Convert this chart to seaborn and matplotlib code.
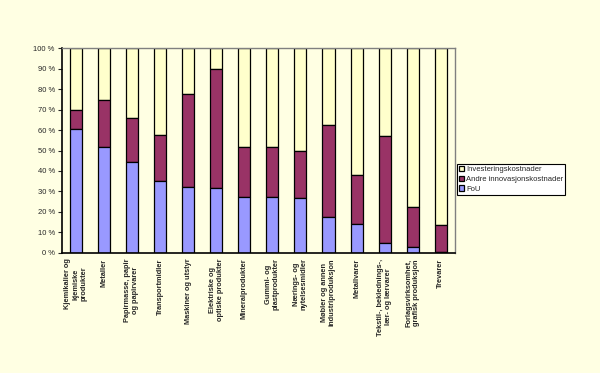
import matplotlib
matplotlib.use("Agg")
import matplotlib.pyplot as plt
import seaborn as sns
import numpy as np
import pandas as pd

categories = [
    "Kjemikalier og\nkjemiske\nprodukter", "Metaller", "Papirmasse, papir\nog papirvarer",
    "Transportmidler", "Maskiner og utstyr", "Elektriske og\noptiske produkter",
    "Mineralprodukter", "Gummi- og\nplastprodukter", "Nærings- og\nnytelsesmidler",
    "Møbler og annen\nindustriproduksjon", "Metallvarer", "Tekstil-, beklednings-,\nlær- og lærvarer",
    "Forlagsvirksomhet,\ngrafisk produksjon", "Trevarer",
]
fou = [60.6, 51.5, 44.4, 35.1, 32.4, 31.7, 27.5, 27.5, 27.0, 17.6, 14.1, 5.0, 2.8, 0.5]
andre = [9.2, 23.1, 21.3, 22.6, 45.0, 58.1, 24.0, 24.3, 22.8, 44.8, 23.9, 52.1, 19.8, 13.2]
invest = [100 - a - b for a, b in zip(fou, andre)]
yticks = [0, 10, 20, 30, 40, 50, 60, 70, 80, 90, 100]

bg = "#FFFFE3"
sns.set_style("white")
plt.rcParams["font.family"] = ["Liberation Sans", "DejaVu Sans"]

df = pd.DataFrame({"kat": categories, "fou": fou, "andre": andre, "invest": invest})
df["b2"] = df["fou"]
df["b3"] = df["fou"] + df["andre"]

fig = plt.figure(figsize=(6, 3.73), dpi=100, facecolor=bg)
ax = fig.add_axes([0.103, 0.322, 0.655, 0.549])
ax.set_facecolor(bg)

w = 0.43
kw = dict(width=w, edgecolor="black", linewidth=0.9, saturation=1, ax=ax, order=categories)
sns.barplot(data=df, x="kat", y="invest", bottom=df["b3"], color="#FFFFCC", label="Investeringskostnader", **kw)
sns.barplot(data=df, x="kat", y="andre", bottom=df["b2"], color="#993366", label="Andre innovasjonskostnader", **kw)
sns.barplot(data=df, x="kat", y="fou", color="#9999FF", label="FoU", **kw)

ax.set_xlim(-0.5, len(categories) - 0.5)
ax.set_ylim(0, 100)
ax.set_yticks(yticks)
ax.set_yticklabels([f"{v} %" for v in yticks], fontsize=5.5)
ax.set_xticks(range(len(categories)))
ax.set_xticklabels(categories, rotation=90, ha="center", va="top", fontsize=5.3,
                   fontweight="bold", multialignment="center")
ax.tick_params(axis="x", length=0, pad=4)
ax.set_xticks(np.arange(0.5, len(categories) - 0.5, 1), minor=True)
ax.tick_params(axis="x", which="minor", length=3, direction="inout", width=0.8)
ax.tick_params(axis="y", length=3, direction="out", width=0.8, left=True, pad=2)
ax.set_xlabel("")
ax.set_ylabel("")
for s in ["left", "bottom"]:
    ax.spines[s].set_color("black")
    ax.spines[s].set_linewidth(1.2)
for s in ["top", "right"]:
    ax.spines[s].set_color("#808080")
    ax.spines[s].set_linewidth(1.0)

leg = ax.legend(loc="upper left", bbox_to_anchor=(1.005, 0.435), fontsize=5.5, frameon=True,
                fancybox=False, edgecolor="black", facecolor="white", framealpha=1,
                handlelength=0.7, handleheight=0.7, handletextpad=0.2, borderpad=0.3,
                labelspacing=0.3, borderaxespad=0)
leg.get_frame().set_linewidth(0.8)

fig.savefig("out.png", dpi=100, facecolor=bg)
